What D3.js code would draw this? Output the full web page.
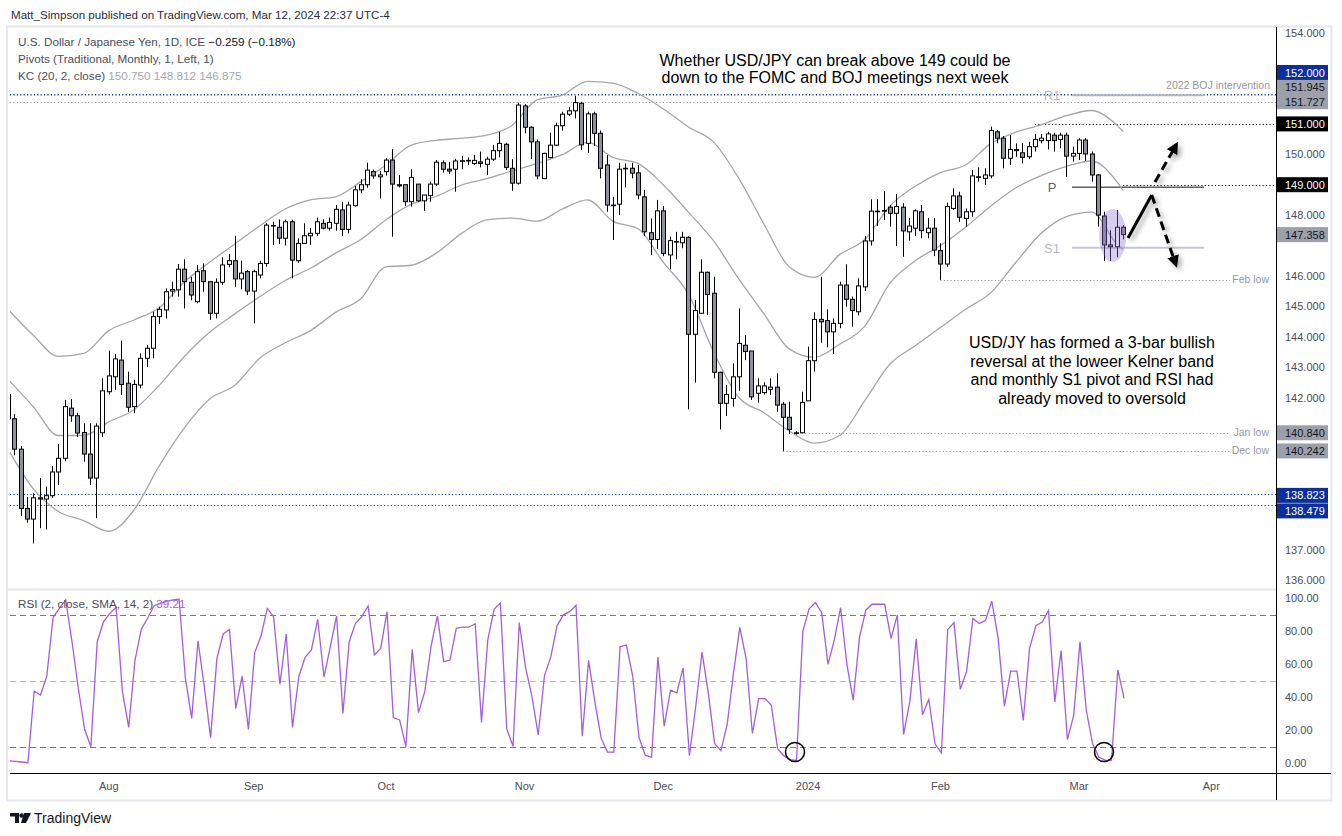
<!DOCTYPE html>
<html><head><meta charset="utf-8">
<script src="https://cdn.jsdelivr.net/npm/d3@7"></script>
<style>body{margin:0;background:#fff;}svg{display:block;font-family:"Liberation Sans",Arial,sans-serif;}</style>
</head><body><svg id="c" width="1342" height="836"></svg>
<script>
// ---------------- DATA ----------------
const opens = [
142.1,141.3,140.3,138.35,138.0,138.7,138.66,138.77,139.55,140.0,
141.65,141.4,140.85,140.14,139.35,140.84,142.19,142.68,143.23,142.47,
141.7,142.41,143.29,143.62,144.66,144.88,145.5,145.54,146.22,145.79,
145.15,146.17,145.81,144.77,145.79,146.38,146.5,145.9,146.14,145.5,
146.03,146.41,147.64,147.6,147.24,147.78,146.5,147.07,147.32,147.4,
147.73,147.57,147.73,148.17,147.53,148.31,148.83,149.0,149.43,149.26,
149.43,149.81,149.0,149.0,148.44,149.02,148.47,148.64,149.02,149.72,
149.51,149.51,149.78,149.8,149.7,149.75,149.67,149.84,150.12,150.33,
149.54,149.05,151.59,150.89,150.41,149.2,149.89,150.3,150.94,151.32,
151.43,151.68,150.36,151.33,150.69,149.65,148.33,148.36,149.54,149.54,
149.39,148.6,147.42,147.2,148.14,146.69,147.13,147.09,147.27,144.08,
144.77,146.12,145.43,142.83,141.81,141.97,142.68,143.72,143.53,142.14,
142.16,142.27,142.34,141.78,141.35,140.84,140.84,141.89,143.21,144.57,
144.53,144.16,144.44,145.7,145.23,144.82,145.64,147.15,148.13,148.15,
148.26,148.06,148.26,147.45,147.57,148.11,147.42,147.57,146.83,146.39,
148.22,148.63,147.89,148.11,149.26,149.21,149.29,150.74,150.53,149.87,
150.12,150.05,149.92,150.25,150.45,150.45,150.63,150.49,150.63,149.94,
150.03,150.47,150.01,149.32,147.97,147.02,146.96,147.6];
const highs = [
142.3,141.45,140.4,138.73,138.85,139.35,139.07,139.75,140.47,141.92,
141.95,141.5,141.15,141.15,141.15,142.63,143.54,143.43,143.87,142.85,
142.58,143.45,143.73,144.82,144.99,145.59,145.81,146.39,146.55,145.97,
146.36,146.41,145.81,145.92,146.61,146.72,147.32,146.5,146.19,146.2,
146.5,147.73,147.78,147.86,147.85,147.85,147.24,147.73,147.57,147.92,
147.86,147.92,148.33,148.44,148.44,148.96,149.18,149.72,149.5,149.45,
149.87,150.17,149.32,149.0,149.51,149.02,148.66,149.1,149.81,149.8,
149.75,149.85,149.95,149.9,149.98,150.09,149.92,150.31,150.74,150.38,
149.84,151.7,151.65,150.92,150.49,150.05,150.71,151.04,151.4,151.55,
151.92,151.73,151.4,151.4,150.78,149.98,148.6,149.72,149.7,149.72,
149.65,148.83,147.89,148.5,148.3,147.29,147.45,147.45,147.3,145.21,
146.55,146.14,145.97,142.85,142.41,143.12,144.93,144.06,143.53,142.63,
142.5,142.63,142.8,141.86,141.86,140.9,142.19,143.67,144.8,145.97,
144.9,144.6,145.81,146.38,145.32,145.92,147.31,148.52,148.52,148.79,
148.33,148.69,148.39,147.9,148.19,148.33,147.9,147.9,147.07,148.41,
148.88,148.77,148.22,149.48,149.57,149.54,150.91,150.8,150.6,150.63,
150.36,150.37,150.41,150.67,150.67,150.74,150.71,150.71,150.71,150.25,
150.53,150.53,150.09,149.35,148.11,147.5,148.17,147.67];
const lows = [
141.2,140.1,138.1,137.88,137.2,137.7,137.66,138.7,139.12,139.9,
141.2,140.7,139.89,139.12,138.03,140.7,142.1,142.25,142.08,141.53,
141.48,142.3,143.0,143.29,144.42,144.6,145.32,145.32,144.93,145.2,
145.1,145.48,144.55,144.6,145.7,146.28,145.64,145.56,145.37,144.44,
145.92,146.3,147.02,147.05,147.0,145.92,146.43,147.05,147.02,147.31,
147.53,147.49,147.49,147.31,147.4,148.28,148.72,148.9,149.2,148.55,
149.3,147.29,148.91,148.3,148.28,148.44,148.14,148.44,148.96,149.4,
149.35,148.77,149.51,149.65,149.65,149.57,149.32,149.78,149.9,149.48,
148.8,149.0,150.69,149.84,149.18,149.2,149.87,150.27,150.78,151.26,
151.18,150.14,150.05,150.27,149.21,148.11,147.18,148.0,148.91,149.21,
148.52,147.31,146.69,146.88,146.65,146.22,146.55,146.91,141.61,142.49,
144.77,144.71,142.63,140.95,141.39,141.7,142.22,143.23,141.92,141.83,
142.1,142.08,141.53,140.24,140.8,140.78,140.84,141.89,142.85,143.8,
143.65,143.43,144.28,144.99,144.33,144.7,145.5,147.0,147.64,147.84,
147.62,146.98,146.63,147.16,147.31,147.24,147.24,146.65,145.87,146.3,
148.17,147.78,147.62,147.95,149.1,148.99,149.21,150.36,149.54,149.65,
149.92,149.7,149.84,150.09,150.36,150.16,150.09,150.2,149.26,149.76,
149.81,149.78,149.1,147.62,146.49,146.49,146.61,147.2];
const closes = [
141.3,140.3,138.35,138.0,138.7,138.66,138.77,139.55,140.0,141.7,
141.4,140.83,140.14,139.35,141.06,142.22,142.71,143.27,142.43,141.68,
142.43,143.29,143.62,144.66,144.9,145.48,145.55,146.22,145.81,145.37,
146.14,145.81,144.77,145.79,146.36,146.5,145.9,146.09,145.5,146.14,
146.41,147.67,147.66,147.24,147.78,146.52,147.07,147.32,147.4,147.78,
147.57,147.76,148.19,147.53,148.33,148.83,149.0,149.48,149.29,149.32,
149.81,149.02,148.96,148.44,149.24,148.47,148.66,149.02,149.74,149.51,
149.45,149.78,149.79,149.79,149.8,149.7,149.84,150.12,150.36,149.57,
149.05,151.62,150.89,150.41,149.29,150.03,150.3,150.94,151.32,151.43,
151.7,150.31,151.33,150.69,149.54,148.33,148.33,149.51,149.54,149.38,
148.66,147.45,147.2,148.14,146.74,147.16,147.13,147.27,144.08,144.86,
146.12,145.39,142.83,141.81,142.1,142.68,143.78,143.51,142.02,142.38,
142.38,142.34,141.75,141.35,140.95,140.82,141.84,143.21,144.57,144.49,
144.16,144.44,145.7,145.23,144.86,145.67,147.15,148.13,148.13,148.13,
148.06,148.28,147.48,147.64,148.14,147.49,147.57,146.85,146.39,148.28,
148.63,147.93,148.11,149.29,149.26,149.32,150.78,150.53,149.87,150.16,
150.16,149.9,150.25,150.49,150.53,150.67,150.45,150.63,149.94,150.03,
150.47,150.01,149.32,148.0,147.02,146.96,147.6,147.36];

// Keltner channel read at every 4th bar
const kcBars  = [0,4,8,12,16,20,24,28,32,36,40,44,48,52,56,60,64,68,72,76,80,84,88,92,96,100,104,108,112,116,120,124,128,132,136,140,144,148,152,156,160,164,168,172,176,177];
const kcUpper = [144.9,144.05,143.35,143.45,144.2,144.55,144.95,145.8,146.45,147.05,147.65,148.2,148.5,148.6,149.1,149.65,150.3,150.46,150.53,150.63,150.95,151.79,151.95,152.4,152.34,152.0,151.5,150.9,150.4,149.21,147.7,146.3,145.95,146.7,147.2,148.3,148.95,149.4,149.65,150.35,150.73,150.97,151.27,151.44,150.96,150.75];
const kcMid   = [142.6,141.7,140.75,140.75,141.2,141.6,142.4,143.35,144.15,144.75,145.32,145.85,146.25,146.75,147.2,147.85,148.35,148.62,148.99,149.2,149.45,149.7,149.99,150.4,149.9,149.7,149.0,148.1,147.15,145.9,144.75,143.6,143.32,143.75,144.35,145.76,146.5,147.0,147.6,148.3,148.9,149.3,149.6,149.78,149.1,148.81];
const kcLower = [140.3,139.0,138.25,137.95,137.6,138.3,139.75,141.0,141.95,142.4,143.3,143.8,144.2,144.8,145.25,146.3,146.35,146.75,147.4,147.84,147.9,147.8,148.2,148.5,147.8,147.55,146.45,145.4,143.5,142.0,141.5,140.9,140.5,140.75,141.9,143.1,143.7,144.3,144.9,145.45,146.45,147.4,147.95,148.1,147.05,146.87];

const rsi = [
1.4,1.0,0.6,0.2,43.6,41.2,52.7,88.3,93.7,98.8,
73.5,45.3,20.4,9.9,73.5,85.6,90.7,94.3,43.4,21.6,
62.4,81,87.7,95.2,96.8,98,98.8,99.2,51.3,27.1,
74.1,46.3,15.4,63.4,78.2,81,33.1,52.7,20.4,66.9,
77,93.7,88.7,47.7,78.2,21.6,52.3,64,68.5,87.1,
52.1,70.5,89.1,30.1,73.5,84.7,88.7,95.2,65.5,69.5,
91.7,27.5,26.1,9.9,68.9,30.5,43.4,70.9,89.1,61.4,
62.4,81.6,82.3,82.3,84.4,24.6,74.7,93.1,96.9,20.8,
10.2,85.1,57.7,40.6,17.0,53.0,64.3,83.3,89.8,91.7,
95.6,16.3,62.2,36.9,14.9,6.6,6.6,70.5,71.5,52.6,
15.6,4.6,3.6,64.2,22.3,44.2,42.5,57.7,4.4,34.2,
67.2,42.5,11.9,7.5,23.4,54.6,82.2,63.3,17.9,39.0,
39.0,35.0,8.7,4.3,2.1,1.6,79.8,93.5,97.3,91.1,
59.8,74.6,94.1,59.8,38.0,76.1,92.6,96.2,96.2,96.2,
75.5,89.6,17.3,37.5,75.2,29.3,38.5,11.5,6.1,80.8,
85.1,44.6,55.5,87.6,84.5,86.4,98.1,75.8,34.5,55.7,
55.7,25.8,69.7,83.2,85.4,92.4,37.0,68.2,14.2,28.9,
73.4,31.8,11.8,3.5,1.7,1.6,56.4,39.21];

const monthBars   = [16,39,60,82,104,127,148,170,191];
const monthLabels = ["Aug","Sep","Oct","Nov","Dec","2024","Feb","Mar","Apr"];
const priceTicks  = d3.range(136,155,1);
const rsiTicks    = [0,20,40,60,80,100];
const rsiLevels   = [90,50,10];

const blueLevels  = [152.0,138.823,138.479];
const grayLevels  = [151.945,151.727];
const blackLevels = [151.0,149.0];
const blackStartBar = [163,177];
const lowLevels   = [145.87,140.84,140.242];
const lowLabels   = ["Feb low","Jan low","Dec low"];
const lowStartBar = [148,126,123];
const pivotValues = [151.945,148.92,146.93];
const pivotLabels = ["R1","P","S1"];

const badgeValues = [152.0,151.945,151.727,151.0,149.0,147.358,140.840,140.242,138.823,138.479];
const badgeShownAt= [152.69,152.2,151.73,151.0,149.0,147.358,140.840,140.242,138.78,138.27];
const badgeKinds  = ["blue","gray","gray","black","black","gray","gray","gray","blue","blue"];

// ---------------- DRAWING ----------------
const svg = d3.select('#c');
const x  = d3.scaleLinear().domain([0,177]).range([8,1123.1]);
const y  = d3.scaleLinear().domain([136,154]).range([579.9,32.7]);
const yR = d3.scaleLinear().domain([0,100]).range([763,598]);
const AX = 1276;

const defs = svg.append('defs');
defs.append('clipPath').attr('id','clipP').append('rect').attr('x',10).attr('y',27).attr('width',AX-10).attr('height',561);
defs.append('clipPath').attr('id','clipR').append('rect').attr('x',10).attr('y',590).attr('width',AX-10).attr('height',183);
const f = defs.append('filter').attr('id','sh').attr('x','-50%').attr('y','-50%').attr('width','200%').attr('height','200%');
f.append('feDropShadow').attr('dx',3).attr('dy',3).attr('stdDeviation',2.5).attr('flood-color','#000').attr('flood-opacity',0.35);
defs.append('marker').attr('id','ah').attr('viewBox','0 0 10 10').attr('refX',5).attr('refY',5)
  .attr('markerWidth',4).attr('markerHeight',4).attr('orient','auto-start-reverse')
  .append('path').attr('d','M0,0 L10,5 L0,10 z').attr('fill','#000');

// header
svg.append('text').attr('x',11).attr('y',19).attr('font-size',11.6).attr('fill','#2a2e39')
  .text('Matt_Simpson published on TradingView.com, Mar 12, 2024 22:37 UTC-4');
// frame
svg.append('rect').attr('x',7).attr('y',26.5).attr('width',1324.5).attr('height',774)
  .attr('fill','none').attr('stroke','#e6e7ec').attr('stroke-width',2);
svg.append('line').attr('x1',8).attr('x2',AX).attr('y1',589.5).attr('y2',589.5).attr('stroke','#e6e7ec').attr('stroke-width',2);

// legend
const lg = svg.append('g').attr('font-size',11.7);
const t1 = lg.append('text').attr('x',18).attr('y',46).attr('fill','#4a4e59');
t1.append('tspan').text('U.S. Dollar / Japanese Yen, 1D, ICE  ');
t1.append('tspan').attr('fill','#131722').text('\u22120.259 (\u22120.18%)');
lg.append('text').attr('x',18).attr('y',63).attr('fill','#4a4e59').text('Pivots (Traditional, Monthly, 1, Left, 1)');
const t3 = lg.append('text').attr('x',18).attr('y',80).attr('fill','#4a4e59');
t3.append('tspan').text('KC (20, 2, close)  ');
t3.append('tspan').attr('fill','#a3a6af').text('150.750  148.812  146.875');

// price pane
const gp = svg.append('g').attr('clip-path','url(#clipP)');
const dotted = '1.2,2.2';
const hy = v => Math.round(y(v))+0.5;
blueLevels.forEach(v=>gp.append('line').attr('x1',10).attr('x2',AX).attr('y1',hy(v)).attr('y2',hy(v))
  .attr('stroke','#1a3aa0').attr('stroke-dasharray',dotted));
grayLevels.forEach(v=>gp.append('line').attr('x1',10).attr('x2',AX).attr('y1',hy(v)).attr('y2',hy(v))
  .attr('stroke','#9598a1').attr('stroke-dasharray',dotted));
blackLevels.forEach((v,k)=>gp.append('line').attr('x1',x(blackStartBar[k])).attr('x2',AX).attr('y1',hy(v)).attr('y2',hy(v))
  .attr('stroke','#000').attr('stroke-dasharray',dotted));
lowLevels.forEach((v,k)=>{
  gp.append('line').attr('x1',x(lowStartBar[k])).attr('x2',1230).attr('y1',hy(v)).attr('y2',hy(v))
    .attr('stroke','#9598a1').attr('stroke-dasharray',dotted);
  gp.append('text').attr('x',1269).attr('y',y(v)+3.5).attr('text-anchor','end').attr('font-size',10.5).attr('fill','#9598a1').text(lowLabels[k]);
});
gp.append('text').attr('x',1270).attr('y',y(151.945)-6).attr('text-anchor','end').attr('font-size',10.5).attr('fill','#9598a1').text('2022 BOJ intervention');
const pvColors = ['#b2b5be','#5d606b','#c4c6cd'];
pivotValues.forEach((v,k)=>{
  gp.append('line').attr('x1',1072).attr('x2',1204).attr('y1',y(v)).attr('y2',y(v)).attr('stroke',pvColors[k]).attr('stroke-width',k==1?1.5:2);
  gp.append('text').attr('x',1052).attr('y',y(v)+5).attr('text-anchor','middle').attr('font-size',13).attr('fill',k==1?'#5d606b':'#b6b8c0').text(pivotLabels[k]);
});
// KC
const kcLine = arr => d3.line().x((d,i)=>x(kcBars[i])).y(d=>y(d)).curve(d3.curveMonotoneX)(arr);
[kcUpper,kcMid,kcLower].forEach(a=>gp.append('path').attr('d',kcLine(a)).attr('fill','none').attr('stroke','#a3a6ae').attr('stroke-width',1.3));
// candles
opens.forEach((o,i)=>{
  const c=closes[i], cx=Math.round(x(i));
  gp.append('line').attr('x1',cx+0.5).attr('x2',cx+0.5).attr('y1',y(highs[i])).attr('y2',y(lows[i])).attr('stroke','#000');
  const top=y(Math.max(o,c)), bot=y(Math.min(o,c));
  gp.append('rect').attr('x',cx-1.5).attr('y',top).attr('width',4).attr('height',Math.max(0.6,bot-top))
    .attr('fill',c>=o?'#fff':'#8e9199').attr('stroke','#000').attr('stroke-width',1);
});
gp.append('ellipse').attr('cx',1112.7).attr('cy',235.5).attr('rx',13.5).attr('ry',26.5).attr('fill','#8a6fd0').attr('fill-opacity',0.35);
const ga = gp.append('g').attr('filter','url(#sh)').attr('stroke','#000').attr('stroke-width',3).attr('fill','none');
ga.append('path').attr('d','M1128,238 L1151.7,195');
ga.append('path').attr('d','M1151.7,195 L1175,262').attr('stroke-dasharray','9,5').attr('marker-end','url(#ah)');
ga.append('path').attr('d','M1155,182 L1175,147').attr('stroke-dasharray','9,5').attr('marker-end','url(#ah)');
const ann = gp.append('g').attr('font-size',16).attr('fill','#000').attr('text-anchor','middle');
ann.append('text').attr('x',835).attr('y',66).text('Whether USD/JPY can break above 149 could be');
ann.append('text').attr('x',835).attr('y',83).text('down to the FOMC and BOJ meetings next week');
['USD/JY has formed a 3-bar bullish','reversal at the loweer Kelner band','and monthly S1 pivot and RSI had','already moved to oversold']
  .forEach((s,k)=>ann.append('text').attr('x',1092).attr('y',348+k*18.7).text(s));

// RSI pane
const gr = svg.append('g').attr('clip-path','url(#clipR)');
rsiLevels.forEach(v=>gr.append('line').attr('x1',10).attr('x2',AX).attr('y1',Math.round(yR(v))+0.5).attr('y2',Math.round(yR(v))+0.5)
  .attr('stroke',v==50?'#b4b6bd':'#787b86').attr('stroke-dasharray','6,4'));
gr.append('path').attr('d',d3.line().x((d,i)=>x(i)+1).y(d=>yR(d))(rsi)).attr('fill','none').attr('stroke','#a35fd9').attr('stroke-width',1.3);
[[795,752],[1104,752]].forEach(p=>gr.append('circle').attr('cx',p[0]).attr('cy',p[1]).attr('r',9.5).attr('fill','none').attr('stroke','#000').attr('stroke-width',1.5));
const rl = svg.append('text').attr('x',18).attr('y',608).attr('font-size',11.7).attr('fill','#4a4e59');
rl.append('tspan').text('RSI (2, close, SMA, 14, 2)  ');
rl.append('tspan').attr('fill','#a35fd9').text('39.21');

// axis lines
svg.append('line').attr('x1',AX+0.5).attr('x2',AX+0.5).attr('y1',27).attr('y2',800).attr('stroke','#000');
svg.append('line').attr('x1',10).attr('x2',1331).attr('y1',773.5).attr('y2',773.5).attr('stroke','#000');

// price axis labels (ticks covered by a badge are not shown)
const shownTicks = priceTicks.filter(t=>badgeShownAt.every(b=>Math.abs(y(t)-y(b))>=12));
const pa = svg.append('g').attr('transform',`translate(${AX},0)`)
  .call(d3.axisRight(y).tickValues(shownTicks).tickFormat(d3.format('.3f')).tickSize(0).tickPadding(9));
pa.select('.domain').remove();
pa.selectAll('text').attr('font-size',11).attr('fill','#4a4e59').attr('font-family','"Liberation Sans",Arial,sans-serif');
const ra = svg.append('g').attr('transform',`translate(${AX},0)`)
  .call(d3.axisRight(yR).tickValues(rsiTicks).tickFormat(d3.format('.2f')).tickSize(0).tickPadding(9));
ra.select('.domain').remove();
ra.selectAll('text').attr('font-size',11).attr('fill','#4a4e59').attr('font-family','"Liberation Sans",Arial,sans-serif');
monthBars.forEach((b,k)=>svg.append('text').attr('x',x(b)).attr('y',790).attr('text-anchor','middle').attr('font-size',11).attr('fill','#4a4e59').text(monthLabels[k]));

// badges
const bcol = {blue:['#0c2f9a','#fff'],gray:['#9da0a8','#131722'],black:['#000','#fff']};
badgeValues.forEach((v,k)=>{
  const yy=y(badgeShownAt[k]);
  svg.append('rect').attr('x',AX+1).attr('y',yy-7.5).attr('width',51).attr('height',15).attr('fill',bcol[badgeKinds[k]][0]);
  svg.append('text').attr('x',AX+9).attr('y',yy+4).attr('font-size',11).attr('fill',bcol[badgeKinds[k]][1]).text(d3.format('.3f')(v));
});

// footer logo
const lo = svg.append('g').attr('fill','#131722');
lo.append('path').attr('d','M10,813 h9 v10 h-4 v-6.5 h-5 z');
lo.append('circle').attr('cx',21.5).attr('cy',815.5).attr('r',2.2);
lo.append('path').attr('d','M24,813 h7 l-5,10 h-5 z');
svg.append('text').attr('x',34).attr('y',823).attr('font-size',14).attr('fill','#131722').text('TradingView');
</script></body></html>
